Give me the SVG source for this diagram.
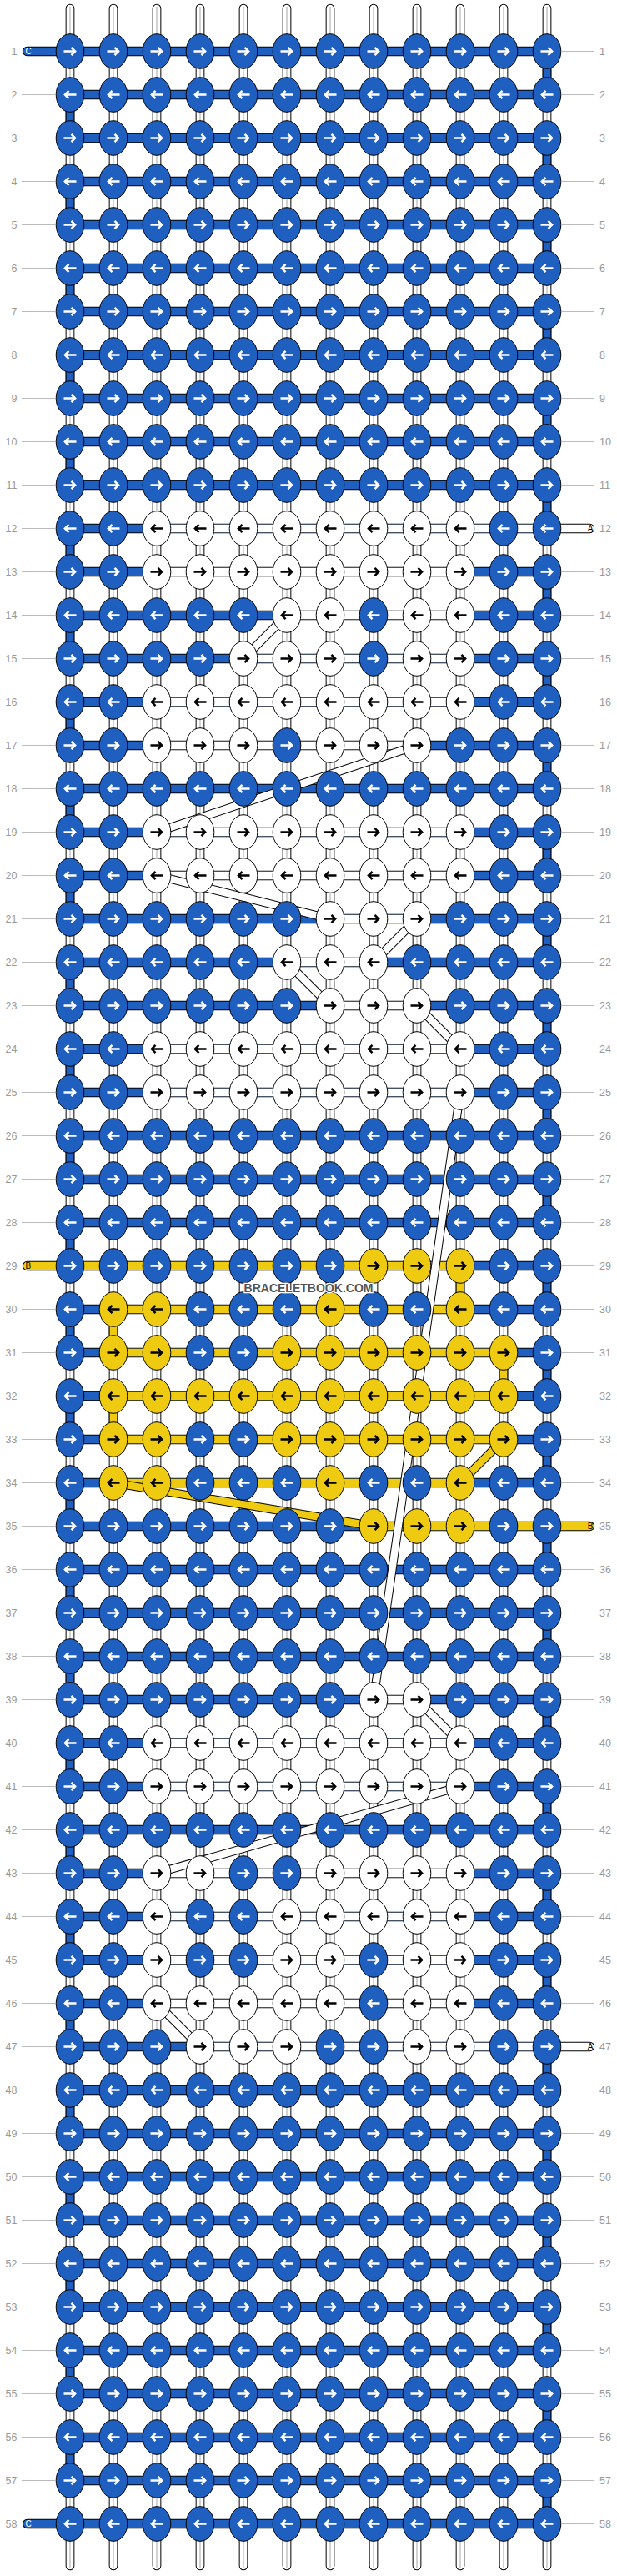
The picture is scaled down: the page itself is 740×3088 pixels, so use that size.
<svg xmlns="http://www.w3.org/2000/svg" xmlns:xlink="http://www.w3.org/1999/xlink" width="740" height="3088" viewBox="0 0 740 3088">
<style>
.lbl{font-family:"Liberation Sans",Arial,sans-serif;font-size:12.5px;fill:#999}
.edge{font-family:"Liberation Sans",Arial,sans-serif;font-size:10px}
</style>
<defs>
<path id="ar" d="M-7.5 0H6M1.5-4.6L6.1 0L1.5 4.6" fill="none" stroke-width="2.5"/>
<g id="bR"><ellipse rx="16.8" ry="20.8" fill="#1f5fbf" stroke="#000"/><use href="#ar" stroke="#fff"/></g>
<g id="bL"><ellipse rx="16.8" ry="20.8" fill="#1f5fbf" stroke="#000"/><use href="#ar" stroke="#fff" transform="scale(-1,1)"/></g>
<g id="wR"><ellipse rx="16.8" ry="20.8" fill="#fff" stroke="#000"/><use href="#ar" stroke="#000"/></g>
<g id="wL"><ellipse rx="16.8" ry="20.8" fill="#fff" stroke="#000"/><use href="#ar" stroke="#000" transform="scale(-1,1)"/></g>
<g id="yR"><ellipse rx="16.8" ry="20.8" fill="#eecb10" stroke="#000"/><use href="#ar" stroke="#000"/></g>
<g id="yL"><ellipse rx="16.8" ry="20.8" fill="#eecb10" stroke="#000"/><use href="#ar" stroke="#000" transform="scale(-1,1)"/></g>
<path id="vcols" d="M84 10V3076M136 10V3076M188 10V3076M240 10V3076M292 10V3076M344 10V3076M396 10V3076M448 10V3076M500 10V3076M552 10V3076M604 10V3076M656 10V3076"/>
<path id="hrows" d="M84 61.5H656M84 113.5H656M84 165.5H656M84 217.5H656M84 269.5H656M84 321.5H656M84 373.5H656M84 425.5H656M84 477.5H656M84 529.5H656M84 581.5H656M84 633.5H656M84 685.5H656M84 737.5H656M84 789.5H656M84 841.5H656M84 893.5H656M84 945.5H656M84 997.5H656M84 1049.5H656M84 1101.5H656M84 1153.5H656M84 1205.5H656M84 1257.5H656M84 1309.5H656M84 1361.5H656M84 1413.5H656M84 1465.5H656M84 1517.5H656M84 1569.5H656M84 1621.5H656M84 1673.5H656M84 1725.5H656M84 1777.5H656M84 1829.5H656M84 1881.5H656M84 1933.5H656M84 1985.5H656M84 2037.5H656M84 2089.5H656M84 2141.5H656M84 2193.5H656M84 2245.5H656M84 2297.5H656M84 2349.5H656M84 2401.5H656M84 2453.5H656M84 2505.5H656M84 2557.5H656M84 2609.5H656M84 2661.5H656M84 2713.5H656M84 2765.5H656M84 2817.5H656M84 2869.5H656M84 2921.5H656M84 2973.5H656M84 3025.5H656"/>
<path id="cturn" d="M656 61.5V3025.5M84 113.5V3025.5"/>
<path id="yturn" d="M552 1517.5V1569.5M136 1569.5V1621.5M604 1621.5V1673.5M136 1673.5V1725.5"/>
<path id="ends" d="M32.5 61.5H84M32.5 3025.5H84M656 633.5H707.5M656 2453.5H707.5M32.5 1517.5H84M656 1829.5H707.5"/>
<path id="wdiag" d="M344 737.5L292 789.5M500 893.5L188 997.5M188 1049.5L396 1101.5M500 1101.5L448 1153.5M344 1153.5L396 1205.5M500 1205.5L552 1257.5M552 1309.5L448 2037.5M500 2037.5L552 2089.5M552 2141.5L188 2245.5M188 2401.5L240 2453.5"/>
<path id="ydiag" d="M604 1725.5L552 1777.5M136 1777.5L448 1829.5"/>
</defs>
<rect width="740" height="3088" fill="#fff"/>
<g id="strings" fill="none">
<use href="#vcols" stroke="#000" stroke-width="10.7" stroke-linecap="round"/>
<use href="#vcols" stroke="#fff" stroke-width="8.7" stroke-linecap="round"/>
<path d="M84 8V3078M136 8V3078M188 8V3078M240 8V3078M292 8V3078M344 8V3078M396 8V3078M448 8V3078M500 8V3078M552 8V3078M604 8V3078M656 8V3078" stroke="#c8c8c8" stroke-width="1.6"/>
</g>
<g id="connectors" fill="none">
<use href="#cturn" stroke="#000" stroke-width="10.7" stroke-dasharray="52 52"/>
<use href="#cturn" stroke="#1f5fbf" stroke-width="8.7" stroke-dasharray="52 52"/>
<use href="#yturn" stroke="#000" stroke-width="10.7"/>
<use href="#yturn" stroke="#eecb10" stroke-width="8.7"/>
<use href="#hrows" stroke="#000" stroke-width="11.3"/>
<use href="#hrows" stroke="#1f5fbf" stroke-width="9.3"/>
<path stroke="#fff" stroke-width="9.3" d="M188 633.5H656M188 685.5H552M344 737.5H552M292 789.5H552M188 841.5H552M188 893.5H500M188 997.5H552M188 1049.5H552M396 1101.5H500M344 1153.5H448M396 1205.5H500M188 1257.5H552M188 1309.5H552M448 2037.5H500M188 2089.5H552M188 2141.5H552M188 2245.5H552M188 2297.5H552M188 2349.5H552M188 2401.5H552M240 2453.5H656"/>
<path stroke="#eecb10" stroke-width="9.3" d="M84 1517.5H552M136 1569.5H552M136 1621.5H604M136 1673.5H604M136 1725.5H604M136 1777.5H552M448 1829.5H656"/>
<use href="#ends" stroke="#000" stroke-width="11.3" stroke-linecap="round"/>
<path stroke="#1f5fbf" stroke-width="9.3" stroke-linecap="round" d="M32.5 61.5H84M32.5 3025.5H84"/>
<path stroke="#fff" stroke-width="9.3" stroke-linecap="round" d="M656 633.5H707.5M656 2453.5H707.5"/>
<path stroke="#eecb10" stroke-width="9.3" stroke-linecap="round" d="M32.5 1517.5H84M656 1829.5H707.5"/>
<use href="#wdiag" stroke="#000" stroke-width="10.5"/>
<use href="#wdiag" stroke="#fff" stroke-width="8.5"/>
<use href="#ydiag" stroke="#000" stroke-width="10.5"/>
<use href="#ydiag" stroke="#eecb10" stroke-width="8.5"/>
</g>
<g id="edge-labels" class="edge">
<text x="30.5" y="65.2" fill="#fff">C</text>
<text x="30.5" y="3029.2" fill="#fff">C</text>
<text x="30.5" y="1521.2" fill="#000">B</text>
<text x="711.5" y="637.2" fill="#000" text-anchor="end">A</text>
<text x="711.5" y="2457.2" fill="#000" text-anchor="end">A</text>
<text x="711.5" y="1833.2" fill="#000" text-anchor="end">B</text>
</g>
<g id="row-labels">
<path fill="none" stroke="#bbb" stroke-width="1" d="M26 113.5H66M26 165.5H66M26 217.5H66M26 269.5H66M26 321.5H66M26 373.5H66M26 425.5H66M26 477.5H66M26 529.5H66M26 581.5H66M26 633.5H66M26 685.5H66M26 737.5H66M26 789.5H66M26 841.5H66M26 893.5H66M26 945.5H66M26 997.5H66M26 1049.5H66M26 1101.5H66M26 1153.5H66M26 1205.5H66M26 1257.5H66M26 1309.5H66M26 1361.5H66M26 1413.5H66M26 1465.5H66M26 1569.5H66M26 1621.5H66M26 1673.5H66M26 1725.5H66M26 1777.5H66M26 1829.5H66M26 1881.5H66M26 1933.5H66M26 1985.5H66M26 2037.5H66M26 2089.5H66M26 2141.5H66M26 2193.5H66M26 2245.5H66M26 2297.5H66M26 2349.5H66M26 2401.5H66M26 2453.5H66M26 2505.5H66M26 2557.5H66M26 2609.5H66M26 2661.5H66M26 2713.5H66M26 2765.5H66M26 2817.5H66M26 2869.5H66M26 2921.5H66M26 2973.5H66M674 61.5H713M674 113.5H713M674 165.5H713M674 217.5H713M674 269.5H713M674 321.5H713M674 373.5H713M674 425.5H713M674 477.5H713M674 529.5H713M674 581.5H713M674 685.5H713M674 737.5H713M674 789.5H713M674 841.5H713M674 893.5H713M674 945.5H713M674 997.5H713M674 1049.5H713M674 1101.5H713M674 1153.5H713M674 1205.5H713M674 1257.5H713M674 1309.5H713M674 1361.5H713M674 1413.5H713M674 1465.5H713M674 1517.5H713M674 1569.5H713M674 1621.5H713M674 1673.5H713M674 1725.5H713M674 1777.5H713M674 1881.5H713M674 1933.5H713M674 1985.5H713M674 2037.5H713M674 2089.5H713M674 2141.5H713M674 2193.5H713M674 2245.5H713M674 2297.5H713M674 2349.5H713M674 2401.5H713M674 2505.5H713M674 2557.5H713M674 2609.5H713M674 2661.5H713M674 2713.5H713M674 2765.5H713M674 2817.5H713M674 2869.5H713M674 2921.5H713M674 2973.5H713M674 3025.5H713"/>
<g class="lbl" text-anchor="end">
<text x="20.5" y="66">1</text><text x="20.5" y="118">2</text><text x="20.5" y="170">3</text><text x="20.5" y="222">4</text><text x="20.5" y="274">5</text><text x="20.5" y="326">6</text><text x="20.5" y="378">7</text><text x="20.5" y="430">8</text><text x="20.5" y="482">9</text><text x="20.5" y="534">10</text><text x="20.5" y="586">11</text><text x="20.5" y="638">12</text><text x="20.5" y="690">13</text><text x="20.5" y="742">14</text><text x="20.5" y="794">15</text><text x="20.5" y="846">16</text><text x="20.5" y="898">17</text><text x="20.5" y="950">18</text><text x="20.5" y="1002">19</text><text x="20.5" y="1054">20</text><text x="20.5" y="1106">21</text><text x="20.5" y="1158">22</text><text x="20.5" y="1210">23</text><text x="20.5" y="1262">24</text><text x="20.5" y="1314">25</text><text x="20.5" y="1366">26</text><text x="20.5" y="1418">27</text><text x="20.5" y="1470">28</text><text x="20.5" y="1522">29</text><text x="20.5" y="1574">30</text><text x="20.5" y="1626">31</text><text x="20.5" y="1678">32</text><text x="20.5" y="1730">33</text><text x="20.5" y="1782">34</text><text x="20.5" y="1834">35</text><text x="20.5" y="1886">36</text><text x="20.5" y="1938">37</text><text x="20.5" y="1990">38</text><text x="20.5" y="2042">39</text><text x="20.5" y="2094">40</text><text x="20.5" y="2146">41</text><text x="20.5" y="2198">42</text><text x="20.5" y="2250">43</text><text x="20.5" y="2302">44</text><text x="20.5" y="2354">45</text><text x="20.5" y="2406">46</text><text x="20.5" y="2458">47</text><text x="20.5" y="2510">48</text><text x="20.5" y="2562">49</text><text x="20.5" y="2614">50</text><text x="20.5" y="2666">51</text><text x="20.5" y="2718">52</text><text x="20.5" y="2770">53</text><text x="20.5" y="2822">54</text><text x="20.5" y="2874">55</text><text x="20.5" y="2926">56</text><text x="20.5" y="2978">57</text><text x="20.5" y="3030">58</text>
</g>
<g class="lbl">
<text x="719" y="66">1</text><text x="719" y="118">2</text><text x="719" y="170">3</text><text x="719" y="222">4</text><text x="719" y="274">5</text><text x="719" y="326">6</text><text x="719" y="378">7</text><text x="719" y="430">8</text><text x="719" y="482">9</text><text x="719" y="534">10</text><text x="719" y="586">11</text><text x="719" y="638">12</text><text x="719" y="690">13</text><text x="719" y="742">14</text><text x="719" y="794">15</text><text x="719" y="846">16</text><text x="719" y="898">17</text><text x="719" y="950">18</text><text x="719" y="1002">19</text><text x="719" y="1054">20</text><text x="719" y="1106">21</text><text x="719" y="1158">22</text><text x="719" y="1210">23</text><text x="719" y="1262">24</text><text x="719" y="1314">25</text><text x="719" y="1366">26</text><text x="719" y="1418">27</text><text x="719" y="1470">28</text><text x="719" y="1522">29</text><text x="719" y="1574">30</text><text x="719" y="1626">31</text><text x="719" y="1678">32</text><text x="719" y="1730">33</text><text x="719" y="1782">34</text><text x="719" y="1834">35</text><text x="719" y="1886">36</text><text x="719" y="1938">37</text><text x="719" y="1990">38</text><text x="719" y="2042">39</text><text x="719" y="2094">40</text><text x="719" y="2146">41</text><text x="719" y="2198">42</text><text x="719" y="2250">43</text><text x="719" y="2302">44</text><text x="719" y="2354">45</text><text x="719" y="2406">46</text><text x="719" y="2458">47</text><text x="719" y="2510">48</text><text x="719" y="2562">49</text><text x="719" y="2614">50</text><text x="719" y="2666">51</text><text x="719" y="2718">52</text><text x="719" y="2770">53</text><text x="719" y="2822">54</text><text x="719" y="2874">55</text><text x="719" y="2926">56</text><text x="719" y="2978">57</text><text x="719" y="3030">58</text>
</g>
</g>
<g id="knots">
<g id="row1" transform="translate(0,61.5)"><use id="k1_1" href="#bR" x="84"/><use id="k1_2" href="#bR" x="136"/><use id="k1_3" href="#bR" x="188"/><use id="k1_4" href="#bR" x="240"/><use id="k1_5" href="#bR" x="292"/><use id="k1_6" href="#bR" x="344"/><use id="k1_7" href="#bR" x="396"/><use id="k1_8" href="#bR" x="448"/><use id="k1_9" href="#bR" x="500"/><use id="k1_10" href="#bR" x="552"/><use id="k1_11" href="#bR" x="604"/><use id="k1_12" href="#bR" x="656"/></g>
<g id="row2" transform="translate(0,113.5)"><use id="k2_1" href="#bL" x="84"/><use id="k2_2" href="#bL" x="136"/><use id="k2_3" href="#bL" x="188"/><use id="k2_4" href="#bL" x="240"/><use id="k2_5" href="#bL" x="292"/><use id="k2_6" href="#bL" x="344"/><use id="k2_7" href="#bL" x="396"/><use id="k2_8" href="#bL" x="448"/><use id="k2_9" href="#bL" x="500"/><use id="k2_10" href="#bL" x="552"/><use id="k2_11" href="#bL" x="604"/><use id="k2_12" href="#bL" x="656"/></g>
<g id="row3" transform="translate(0,165.5)"><use id="k3_1" href="#bR" x="84"/><use id="k3_2" href="#bR" x="136"/><use id="k3_3" href="#bR" x="188"/><use id="k3_4" href="#bR" x="240"/><use id="k3_5" href="#bR" x="292"/><use id="k3_6" href="#bR" x="344"/><use id="k3_7" href="#bR" x="396"/><use id="k3_8" href="#bR" x="448"/><use id="k3_9" href="#bR" x="500"/><use id="k3_10" href="#bR" x="552"/><use id="k3_11" href="#bR" x="604"/><use id="k3_12" href="#bR" x="656"/></g>
<g id="row4" transform="translate(0,217.5)"><use id="k4_1" href="#bL" x="84"/><use id="k4_2" href="#bL" x="136"/><use id="k4_3" href="#bL" x="188"/><use id="k4_4" href="#bL" x="240"/><use id="k4_5" href="#bL" x="292"/><use id="k4_6" href="#bL" x="344"/><use id="k4_7" href="#bL" x="396"/><use id="k4_8" href="#bL" x="448"/><use id="k4_9" href="#bL" x="500"/><use id="k4_10" href="#bL" x="552"/><use id="k4_11" href="#bL" x="604"/><use id="k4_12" href="#bL" x="656"/></g>
<g id="row5" transform="translate(0,269.5)"><use id="k5_1" href="#bR" x="84"/><use id="k5_2" href="#bR" x="136"/><use id="k5_3" href="#bR" x="188"/><use id="k5_4" href="#bR" x="240"/><use id="k5_5" href="#bR" x="292"/><use id="k5_6" href="#bR" x="344"/><use id="k5_7" href="#bR" x="396"/><use id="k5_8" href="#bR" x="448"/><use id="k5_9" href="#bR" x="500"/><use id="k5_10" href="#bR" x="552"/><use id="k5_11" href="#bR" x="604"/><use id="k5_12" href="#bR" x="656"/></g>
<g id="row6" transform="translate(0,321.5)"><use id="k6_1" href="#bL" x="84"/><use id="k6_2" href="#bL" x="136"/><use id="k6_3" href="#bL" x="188"/><use id="k6_4" href="#bL" x="240"/><use id="k6_5" href="#bL" x="292"/><use id="k6_6" href="#bL" x="344"/><use id="k6_7" href="#bL" x="396"/><use id="k6_8" href="#bL" x="448"/><use id="k6_9" href="#bL" x="500"/><use id="k6_10" href="#bL" x="552"/><use id="k6_11" href="#bL" x="604"/><use id="k6_12" href="#bL" x="656"/></g>
<g id="row7" transform="translate(0,373.5)"><use id="k7_1" href="#bR" x="84"/><use id="k7_2" href="#bR" x="136"/><use id="k7_3" href="#bR" x="188"/><use id="k7_4" href="#bR" x="240"/><use id="k7_5" href="#bR" x="292"/><use id="k7_6" href="#bR" x="344"/><use id="k7_7" href="#bR" x="396"/><use id="k7_8" href="#bR" x="448"/><use id="k7_9" href="#bR" x="500"/><use id="k7_10" href="#bR" x="552"/><use id="k7_11" href="#bR" x="604"/><use id="k7_12" href="#bR" x="656"/></g>
<g id="row8" transform="translate(0,425.5)"><use id="k8_1" href="#bL" x="84"/><use id="k8_2" href="#bL" x="136"/><use id="k8_3" href="#bL" x="188"/><use id="k8_4" href="#bL" x="240"/><use id="k8_5" href="#bL" x="292"/><use id="k8_6" href="#bL" x="344"/><use id="k8_7" href="#bL" x="396"/><use id="k8_8" href="#bL" x="448"/><use id="k8_9" href="#bL" x="500"/><use id="k8_10" href="#bL" x="552"/><use id="k8_11" href="#bL" x="604"/><use id="k8_12" href="#bL" x="656"/></g>
<g id="row9" transform="translate(0,477.5)"><use id="k9_1" href="#bR" x="84"/><use id="k9_2" href="#bR" x="136"/><use id="k9_3" href="#bR" x="188"/><use id="k9_4" href="#bR" x="240"/><use id="k9_5" href="#bR" x="292"/><use id="k9_6" href="#bR" x="344"/><use id="k9_7" href="#bR" x="396"/><use id="k9_8" href="#bR" x="448"/><use id="k9_9" href="#bR" x="500"/><use id="k9_10" href="#bR" x="552"/><use id="k9_11" href="#bR" x="604"/><use id="k9_12" href="#bR" x="656"/></g>
<g id="row10" transform="translate(0,529.5)"><use id="k10_1" href="#bL" x="84"/><use id="k10_2" href="#bL" x="136"/><use id="k10_3" href="#bL" x="188"/><use id="k10_4" href="#bL" x="240"/><use id="k10_5" href="#bL" x="292"/><use id="k10_6" href="#bL" x="344"/><use id="k10_7" href="#bL" x="396"/><use id="k10_8" href="#bL" x="448"/><use id="k10_9" href="#bL" x="500"/><use id="k10_10" href="#bL" x="552"/><use id="k10_11" href="#bL" x="604"/><use id="k10_12" href="#bL" x="656"/></g>
<g id="row11" transform="translate(0,581.5)"><use id="k11_1" href="#bR" x="84"/><use id="k11_2" href="#bR" x="136"/><use id="k11_3" href="#bR" x="188"/><use id="k11_4" href="#bR" x="240"/><use id="k11_5" href="#bR" x="292"/><use id="k11_6" href="#bR" x="344"/><use id="k11_7" href="#bR" x="396"/><use id="k11_8" href="#bR" x="448"/><use id="k11_9" href="#bR" x="500"/><use id="k11_10" href="#bR" x="552"/><use id="k11_11" href="#bR" x="604"/><use id="k11_12" href="#bR" x="656"/></g>
<g id="row12" transform="translate(0,633.5)"><use id="k12_1" href="#bL" x="84"/><use id="k12_2" href="#bL" x="136"/><use id="k12_3" href="#wL" x="188"/><use id="k12_4" href="#wL" x="240"/><use id="k12_5" href="#wL" x="292"/><use id="k12_6" href="#wL" x="344"/><use id="k12_7" href="#wL" x="396"/><use id="k12_8" href="#wL" x="448"/><use id="k12_9" href="#wL" x="500"/><use id="k12_10" href="#wL" x="552"/><use id="k12_11" href="#bL" x="604"/><use id="k12_12" href="#bL" x="656"/></g>
<g id="row13" transform="translate(0,685.5)"><use id="k13_1" href="#bR" x="84"/><use id="k13_2" href="#bR" x="136"/><use id="k13_3" href="#wR" x="188"/><use id="k13_4" href="#wR" x="240"/><use id="k13_5" href="#wR" x="292"/><use id="k13_6" href="#wR" x="344"/><use id="k13_7" href="#wR" x="396"/><use id="k13_8" href="#wR" x="448"/><use id="k13_9" href="#wR" x="500"/><use id="k13_10" href="#wR" x="552"/><use id="k13_11" href="#bR" x="604"/><use id="k13_12" href="#bR" x="656"/></g>
<g id="row14" transform="translate(0,737.5)"><use id="k14_1" href="#bL" x="84"/><use id="k14_2" href="#bL" x="136"/><use id="k14_3" href="#bL" x="188"/><use id="k14_4" href="#bL" x="240"/><use id="k14_5" href="#bL" x="292"/><use id="k14_6" href="#wL" x="344"/><use id="k14_7" href="#wL" x="396"/><use id="k14_8" href="#bL" x="448"/><use id="k14_9" href="#wL" x="500"/><use id="k14_10" href="#wL" x="552"/><use id="k14_11" href="#bL" x="604"/><use id="k14_12" href="#bL" x="656"/></g>
<g id="row15" transform="translate(0,789.5)"><use id="k15_1" href="#bR" x="84"/><use id="k15_2" href="#bR" x="136"/><use id="k15_3" href="#bR" x="188"/><use id="k15_4" href="#bR" x="240"/><use id="k15_5" href="#wR" x="292"/><use id="k15_6" href="#wR" x="344"/><use id="k15_7" href="#wR" x="396"/><use id="k15_8" href="#bR" x="448"/><use id="k15_9" href="#wR" x="500"/><use id="k15_10" href="#wR" x="552"/><use id="k15_11" href="#bR" x="604"/><use id="k15_12" href="#bR" x="656"/></g>
<g id="row16" transform="translate(0,841.5)"><use id="k16_1" href="#bL" x="84"/><use id="k16_2" href="#bL" x="136"/><use id="k16_3" href="#wL" x="188"/><use id="k16_4" href="#wL" x="240"/><use id="k16_5" href="#wL" x="292"/><use id="k16_6" href="#wL" x="344"/><use id="k16_7" href="#wL" x="396"/><use id="k16_8" href="#wL" x="448"/><use id="k16_9" href="#wL" x="500"/><use id="k16_10" href="#wL" x="552"/><use id="k16_11" href="#bL" x="604"/><use id="k16_12" href="#bL" x="656"/></g>
<g id="row17" transform="translate(0,893.5)"><use id="k17_1" href="#bR" x="84"/><use id="k17_2" href="#bR" x="136"/><use id="k17_3" href="#wR" x="188"/><use id="k17_4" href="#wR" x="240"/><use id="k17_5" href="#wR" x="292"/><use id="k17_6" href="#bR" x="344"/><use id="k17_7" href="#wR" x="396"/><use id="k17_8" href="#wR" x="448"/><use id="k17_9" href="#wR" x="500"/><use id="k17_10" href="#bR" x="552"/><use id="k17_11" href="#bR" x="604"/><use id="k17_12" href="#bR" x="656"/></g>
<g id="row18" transform="translate(0,945.5)"><use id="k18_1" href="#bL" x="84"/><use id="k18_2" href="#bL" x="136"/><use id="k18_3" href="#bL" x="188"/><use id="k18_4" href="#bL" x="240"/><use id="k18_5" href="#bL" x="292"/><use id="k18_6" href="#bL" x="344"/><use id="k18_7" href="#bL" x="396"/><use id="k18_8" href="#bL" x="448"/><use id="k18_9" href="#bL" x="500"/><use id="k18_10" href="#bL" x="552"/><use id="k18_11" href="#bL" x="604"/><use id="k18_12" href="#bL" x="656"/></g>
<g id="row19" transform="translate(0,997.5)"><use id="k19_1" href="#bR" x="84"/><use id="k19_2" href="#bR" x="136"/><use id="k19_3" href="#wR" x="188"/><use id="k19_4" href="#wR" x="240"/><use id="k19_5" href="#wR" x="292"/><use id="k19_6" href="#wR" x="344"/><use id="k19_7" href="#wR" x="396"/><use id="k19_8" href="#wR" x="448"/><use id="k19_9" href="#wR" x="500"/><use id="k19_10" href="#wR" x="552"/><use id="k19_11" href="#bR" x="604"/><use id="k19_12" href="#bR" x="656"/></g>
<g id="row20" transform="translate(0,1049.5)"><use id="k20_1" href="#bL" x="84"/><use id="k20_2" href="#bL" x="136"/><use id="k20_3" href="#wL" x="188"/><use id="k20_4" href="#wL" x="240"/><use id="k20_5" href="#wL" x="292"/><use id="k20_6" href="#wL" x="344"/><use id="k20_7" href="#wL" x="396"/><use id="k20_8" href="#wL" x="448"/><use id="k20_9" href="#wL" x="500"/><use id="k20_10" href="#wL" x="552"/><use id="k20_11" href="#bL" x="604"/><use id="k20_12" href="#bL" x="656"/></g>
<g id="row21" transform="translate(0,1101.5)"><use id="k21_1" href="#bR" x="84"/><use id="k21_2" href="#bR" x="136"/><use id="k21_3" href="#bR" x="188"/><use id="k21_4" href="#bR" x="240"/><use id="k21_5" href="#bR" x="292"/><use id="k21_6" href="#bR" x="344"/><use id="k21_7" href="#wR" x="396"/><use id="k21_8" href="#wR" x="448"/><use id="k21_9" href="#wR" x="500"/><use id="k21_10" href="#bR" x="552"/><use id="k21_11" href="#bR" x="604"/><use id="k21_12" href="#bR" x="656"/></g>
<g id="row22" transform="translate(0,1153.5)"><use id="k22_1" href="#bL" x="84"/><use id="k22_2" href="#bL" x="136"/><use id="k22_3" href="#bL" x="188"/><use id="k22_4" href="#bL" x="240"/><use id="k22_5" href="#bL" x="292"/><use id="k22_6" href="#wL" x="344"/><use id="k22_7" href="#wL" x="396"/><use id="k22_8" href="#wL" x="448"/><use id="k22_9" href="#bL" x="500"/><use id="k22_10" href="#bL" x="552"/><use id="k22_11" href="#bL" x="604"/><use id="k22_12" href="#bL" x="656"/></g>
<g id="row23" transform="translate(0,1205.5)"><use id="k23_1" href="#bR" x="84"/><use id="k23_2" href="#bR" x="136"/><use id="k23_3" href="#bR" x="188"/><use id="k23_4" href="#bR" x="240"/><use id="k23_5" href="#bR" x="292"/><use id="k23_6" href="#bR" x="344"/><use id="k23_7" href="#wR" x="396"/><use id="k23_8" href="#wR" x="448"/><use id="k23_9" href="#wR" x="500"/><use id="k23_10" href="#bR" x="552"/><use id="k23_11" href="#bR" x="604"/><use id="k23_12" href="#bR" x="656"/></g>
<g id="row24" transform="translate(0,1257.5)"><use id="k24_1" href="#bL" x="84"/><use id="k24_2" href="#bL" x="136"/><use id="k24_3" href="#wL" x="188"/><use id="k24_4" href="#wL" x="240"/><use id="k24_5" href="#wL" x="292"/><use id="k24_6" href="#wL" x="344"/><use id="k24_7" href="#wL" x="396"/><use id="k24_8" href="#wL" x="448"/><use id="k24_9" href="#wL" x="500"/><use id="k24_10" href="#wL" x="552"/><use id="k24_11" href="#bL" x="604"/><use id="k24_12" href="#bL" x="656"/></g>
<g id="row25" transform="translate(0,1309.5)"><use id="k25_1" href="#bR" x="84"/><use id="k25_2" href="#bR" x="136"/><use id="k25_3" href="#wR" x="188"/><use id="k25_4" href="#wR" x="240"/><use id="k25_5" href="#wR" x="292"/><use id="k25_6" href="#wR" x="344"/><use id="k25_7" href="#wR" x="396"/><use id="k25_8" href="#wR" x="448"/><use id="k25_9" href="#wR" x="500"/><use id="k25_10" href="#wR" x="552"/><use id="k25_11" href="#bR" x="604"/><use id="k25_12" href="#bR" x="656"/></g>
<g id="row26" transform="translate(0,1361.5)"><use id="k26_1" href="#bL" x="84"/><use id="k26_2" href="#bL" x="136"/><use id="k26_3" href="#bL" x="188"/><use id="k26_4" href="#bL" x="240"/><use id="k26_5" href="#bL" x="292"/><use id="k26_6" href="#bL" x="344"/><use id="k26_7" href="#bL" x="396"/><use id="k26_8" href="#bL" x="448"/><use id="k26_9" href="#bL" x="500"/><use id="k26_10" href="#bL" x="552"/><use id="k26_11" href="#bL" x="604"/><use id="k26_12" href="#bL" x="656"/></g>
<g id="row27" transform="translate(0,1413.5)"><use id="k27_1" href="#bR" x="84"/><use id="k27_2" href="#bR" x="136"/><use id="k27_3" href="#bR" x="188"/><use id="k27_4" href="#bR" x="240"/><use id="k27_5" href="#bR" x="292"/><use id="k27_6" href="#bR" x="344"/><use id="k27_7" href="#bR" x="396"/><use id="k27_8" href="#bR" x="448"/><use id="k27_9" href="#bR" x="500"/><use id="k27_10" href="#bR" x="552"/><use id="k27_11" href="#bR" x="604"/><use id="k27_12" href="#bR" x="656"/></g>
<g id="row28" transform="translate(0,1465.5)"><use id="k28_1" href="#bL" x="84"/><use id="k28_2" href="#bL" x="136"/><use id="k28_3" href="#bL" x="188"/><use id="k28_4" href="#bL" x="240"/><use id="k28_5" href="#bL" x="292"/><use id="k28_6" href="#bL" x="344"/><use id="k28_7" href="#bL" x="396"/><use id="k28_8" href="#bL" x="448"/><use id="k28_9" href="#bL" x="500"/><use id="k28_10" href="#bL" x="552"/><use id="k28_11" href="#bL" x="604"/><use id="k28_12" href="#bL" x="656"/></g>
<g id="row29" transform="translate(0,1517.5)"><use id="k29_1" href="#bR" x="84"/><use id="k29_2" href="#bR" x="136"/><use id="k29_3" href="#bR" x="188"/><use id="k29_4" href="#bR" x="240"/><use id="k29_5" href="#bR" x="292"/><use id="k29_6" href="#bR" x="344"/><use id="k29_7" href="#bR" x="396"/><use id="k29_8" href="#yR" x="448"/><use id="k29_9" href="#yR" x="500"/><use id="k29_10" href="#yR" x="552"/><use id="k29_11" href="#bR" x="604"/><use id="k29_12" href="#bR" x="656"/></g>
<g id="row30" transform="translate(0,1569.5)"><use id="k30_1" href="#bL" x="84"/><use id="k30_2" href="#yL" x="136"/><use id="k30_3" href="#yL" x="188"/><use id="k30_4" href="#bL" x="240"/><use id="k30_5" href="#bL" x="292"/><use id="k30_6" href="#bL" x="344"/><use id="k30_7" href="#yL" x="396"/><use id="k30_8" href="#bL" x="448"/><use id="k30_9" href="#bL" x="500"/><use id="k30_10" href="#yL" x="552"/><use id="k30_11" href="#bL" x="604"/><use id="k30_12" href="#bL" x="656"/></g>
<g id="row31" transform="translate(0,1621.5)"><use id="k31_1" href="#bR" x="84"/><use id="k31_2" href="#yR" x="136"/><use id="k31_3" href="#yR" x="188"/><use id="k31_4" href="#bR" x="240"/><use id="k31_5" href="#bR" x="292"/><use id="k31_6" href="#yR" x="344"/><use id="k31_7" href="#yR" x="396"/><use id="k31_8" href="#yR" x="448"/><use id="k31_9" href="#yR" x="500"/><use id="k31_10" href="#yR" x="552"/><use id="k31_11" href="#yR" x="604"/><use id="k31_12" href="#bR" x="656"/></g>
<g id="row32" transform="translate(0,1673.5)"><use id="k32_1" href="#bL" x="84"/><use id="k32_2" href="#yL" x="136"/><use id="k32_3" href="#yL" x="188"/><use id="k32_4" href="#yL" x="240"/><use id="k32_5" href="#yL" x="292"/><use id="k32_6" href="#yL" x="344"/><use id="k32_7" href="#yL" x="396"/><use id="k32_8" href="#yL" x="448"/><use id="k32_9" href="#yL" x="500"/><use id="k32_10" href="#yL" x="552"/><use id="k32_11" href="#yL" x="604"/><use id="k32_12" href="#bL" x="656"/></g>
<g id="row33" transform="translate(0,1725.5)"><use id="k33_1" href="#bR" x="84"/><use id="k33_2" href="#yR" x="136"/><use id="k33_3" href="#yR" x="188"/><use id="k33_4" href="#bR" x="240"/><use id="k33_5" href="#bR" x="292"/><use id="k33_6" href="#yR" x="344"/><use id="k33_7" href="#yR" x="396"/><use id="k33_8" href="#yR" x="448"/><use id="k33_9" href="#yR" x="500"/><use id="k33_10" href="#yR" x="552"/><use id="k33_11" href="#yR" x="604"/><use id="k33_12" href="#bR" x="656"/></g>
<g id="row34" transform="translate(0,1777.5)"><use id="k34_1" href="#bL" x="84"/><use id="k34_2" href="#yL" x="136"/><use id="k34_3" href="#yL" x="188"/><use id="k34_4" href="#bL" x="240"/><use id="k34_5" href="#bL" x="292"/><use id="k34_6" href="#bL" x="344"/><use id="k34_7" href="#yL" x="396"/><use id="k34_8" href="#bL" x="448"/><use id="k34_9" href="#bL" x="500"/><use id="k34_10" href="#yL" x="552"/><use id="k34_11" href="#bL" x="604"/><use id="k34_12" href="#bL" x="656"/></g>
<g id="row35" transform="translate(0,1829.5)"><use id="k35_1" href="#bR" x="84"/><use id="k35_2" href="#bR" x="136"/><use id="k35_3" href="#bR" x="188"/><use id="k35_4" href="#bR" x="240"/><use id="k35_5" href="#bR" x="292"/><use id="k35_6" href="#bR" x="344"/><use id="k35_7" href="#bR" x="396"/><use id="k35_8" href="#yR" x="448"/><use id="k35_9" href="#yR" x="500"/><use id="k35_10" href="#yR" x="552"/><use id="k35_11" href="#bR" x="604"/><use id="k35_12" href="#bR" x="656"/></g>
<g id="row36" transform="translate(0,1881.5)"><use id="k36_1" href="#bL" x="84"/><use id="k36_2" href="#bL" x="136"/><use id="k36_3" href="#bL" x="188"/><use id="k36_4" href="#bL" x="240"/><use id="k36_5" href="#bL" x="292"/><use id="k36_6" href="#bL" x="344"/><use id="k36_7" href="#bL" x="396"/><use id="k36_8" href="#bL" x="448"/><use id="k36_9" href="#bL" x="500"/><use id="k36_10" href="#bL" x="552"/><use id="k36_11" href="#bL" x="604"/><use id="k36_12" href="#bL" x="656"/></g>
<g id="row37" transform="translate(0,1933.5)"><use id="k37_1" href="#bR" x="84"/><use id="k37_2" href="#bR" x="136"/><use id="k37_3" href="#bR" x="188"/><use id="k37_4" href="#bR" x="240"/><use id="k37_5" href="#bR" x="292"/><use id="k37_6" href="#bR" x="344"/><use id="k37_7" href="#bR" x="396"/><use id="k37_8" href="#bR" x="448"/><use id="k37_9" href="#bR" x="500"/><use id="k37_10" href="#bR" x="552"/><use id="k37_11" href="#bR" x="604"/><use id="k37_12" href="#bR" x="656"/></g>
<g id="row38" transform="translate(0,1985.5)"><use id="k38_1" href="#bL" x="84"/><use id="k38_2" href="#bL" x="136"/><use id="k38_3" href="#bL" x="188"/><use id="k38_4" href="#bL" x="240"/><use id="k38_5" href="#bL" x="292"/><use id="k38_6" href="#bL" x="344"/><use id="k38_7" href="#bL" x="396"/><use id="k38_8" href="#bL" x="448"/><use id="k38_9" href="#bL" x="500"/><use id="k38_10" href="#bL" x="552"/><use id="k38_11" href="#bL" x="604"/><use id="k38_12" href="#bL" x="656"/></g>
<g id="row39" transform="translate(0,2037.5)"><use id="k39_1" href="#bR" x="84"/><use id="k39_2" href="#bR" x="136"/><use id="k39_3" href="#bR" x="188"/><use id="k39_4" href="#bR" x="240"/><use id="k39_5" href="#bR" x="292"/><use id="k39_6" href="#bR" x="344"/><use id="k39_7" href="#bR" x="396"/><use id="k39_8" href="#wR" x="448"/><use id="k39_9" href="#wR" x="500"/><use id="k39_10" href="#bR" x="552"/><use id="k39_11" href="#bR" x="604"/><use id="k39_12" href="#bR" x="656"/></g>
<g id="row40" transform="translate(0,2089.5)"><use id="k40_1" href="#bL" x="84"/><use id="k40_2" href="#bL" x="136"/><use id="k40_3" href="#wL" x="188"/><use id="k40_4" href="#wL" x="240"/><use id="k40_5" href="#wL" x="292"/><use id="k40_6" href="#wL" x="344"/><use id="k40_7" href="#wL" x="396"/><use id="k40_8" href="#wL" x="448"/><use id="k40_9" href="#wL" x="500"/><use id="k40_10" href="#wL" x="552"/><use id="k40_11" href="#bL" x="604"/><use id="k40_12" href="#bL" x="656"/></g>
<g id="row41" transform="translate(0,2141.5)"><use id="k41_1" href="#bR" x="84"/><use id="k41_2" href="#bR" x="136"/><use id="k41_3" href="#wR" x="188"/><use id="k41_4" href="#wR" x="240"/><use id="k41_5" href="#wR" x="292"/><use id="k41_6" href="#wR" x="344"/><use id="k41_7" href="#wR" x="396"/><use id="k41_8" href="#wR" x="448"/><use id="k41_9" href="#wR" x="500"/><use id="k41_10" href="#wR" x="552"/><use id="k41_11" href="#bR" x="604"/><use id="k41_12" href="#bR" x="656"/></g>
<g id="row42" transform="translate(0,2193.5)"><use id="k42_1" href="#bL" x="84"/><use id="k42_2" href="#bL" x="136"/><use id="k42_3" href="#bL" x="188"/><use id="k42_4" href="#bL" x="240"/><use id="k42_5" href="#bL" x="292"/><use id="k42_6" href="#bL" x="344"/><use id="k42_7" href="#bL" x="396"/><use id="k42_8" href="#bL" x="448"/><use id="k42_9" href="#bL" x="500"/><use id="k42_10" href="#bL" x="552"/><use id="k42_11" href="#bL" x="604"/><use id="k42_12" href="#bL" x="656"/></g>
<g id="row43" transform="translate(0,2245.5)"><use id="k43_1" href="#bR" x="84"/><use id="k43_2" href="#bR" x="136"/><use id="k43_3" href="#wR" x="188"/><use id="k43_4" href="#wR" x="240"/><use id="k43_5" href="#bR" x="292"/><use id="k43_6" href="#bR" x="344"/><use id="k43_7" href="#wR" x="396"/><use id="k43_8" href="#wR" x="448"/><use id="k43_9" href="#wR" x="500"/><use id="k43_10" href="#wR" x="552"/><use id="k43_11" href="#bR" x="604"/><use id="k43_12" href="#bR" x="656"/></g>
<g id="row44" transform="translate(0,2297.5)"><use id="k44_1" href="#bL" x="84"/><use id="k44_2" href="#bL" x="136"/><use id="k44_3" href="#wL" x="188"/><use id="k44_4" href="#bL" x="240"/><use id="k44_5" href="#bL" x="292"/><use id="k44_6" href="#wL" x="344"/><use id="k44_7" href="#wL" x="396"/><use id="k44_8" href="#wL" x="448"/><use id="k44_9" href="#wL" x="500"/><use id="k44_10" href="#wL" x="552"/><use id="k44_11" href="#bL" x="604"/><use id="k44_12" href="#bL" x="656"/></g>
<g id="row45" transform="translate(0,2349.5)"><use id="k45_1" href="#bR" x="84"/><use id="k45_2" href="#bR" x="136"/><use id="k45_3" href="#wR" x="188"/><use id="k45_4" href="#bR" x="240"/><use id="k45_5" href="#bR" x="292"/><use id="k45_6" href="#wR" x="344"/><use id="k45_7" href="#wR" x="396"/><use id="k45_8" href="#bR" x="448"/><use id="k45_9" href="#wR" x="500"/><use id="k45_10" href="#wR" x="552"/><use id="k45_11" href="#bR" x="604"/><use id="k45_12" href="#bR" x="656"/></g>
<g id="row46" transform="translate(0,2401.5)"><use id="k46_1" href="#bL" x="84"/><use id="k46_2" href="#bL" x="136"/><use id="k46_3" href="#wL" x="188"/><use id="k46_4" href="#wL" x="240"/><use id="k46_5" href="#wL" x="292"/><use id="k46_6" href="#wL" x="344"/><use id="k46_7" href="#wL" x="396"/><use id="k46_8" href="#bL" x="448"/><use id="k46_9" href="#wL" x="500"/><use id="k46_10" href="#wL" x="552"/><use id="k46_11" href="#bL" x="604"/><use id="k46_12" href="#bL" x="656"/></g>
<g id="row47" transform="translate(0,2453.5)"><use id="k47_1" href="#bR" x="84"/><use id="k47_2" href="#bR" x="136"/><use id="k47_3" href="#bR" x="188"/><use id="k47_4" href="#wR" x="240"/><use id="k47_5" href="#wR" x="292"/><use id="k47_6" href="#wR" x="344"/><use id="k47_7" href="#bR" x="396"/><use id="k47_8" href="#bR" x="448"/><use id="k47_9" href="#wR" x="500"/><use id="k47_10" href="#wR" x="552"/><use id="k47_11" href="#bR" x="604"/><use id="k47_12" href="#bR" x="656"/></g>
<g id="row48" transform="translate(0,2505.5)"><use id="k48_1" href="#bL" x="84"/><use id="k48_2" href="#bL" x="136"/><use id="k48_3" href="#bL" x="188"/><use id="k48_4" href="#bL" x="240"/><use id="k48_5" href="#bL" x="292"/><use id="k48_6" href="#bL" x="344"/><use id="k48_7" href="#bL" x="396"/><use id="k48_8" href="#bL" x="448"/><use id="k48_9" href="#bL" x="500"/><use id="k48_10" href="#bL" x="552"/><use id="k48_11" href="#bL" x="604"/><use id="k48_12" href="#bL" x="656"/></g>
<g id="row49" transform="translate(0,2557.5)"><use id="k49_1" href="#bR" x="84"/><use id="k49_2" href="#bR" x="136"/><use id="k49_3" href="#bR" x="188"/><use id="k49_4" href="#bR" x="240"/><use id="k49_5" href="#bR" x="292"/><use id="k49_6" href="#bR" x="344"/><use id="k49_7" href="#bR" x="396"/><use id="k49_8" href="#bR" x="448"/><use id="k49_9" href="#bR" x="500"/><use id="k49_10" href="#bR" x="552"/><use id="k49_11" href="#bR" x="604"/><use id="k49_12" href="#bR" x="656"/></g>
<g id="row50" transform="translate(0,2609.5)"><use id="k50_1" href="#bL" x="84"/><use id="k50_2" href="#bL" x="136"/><use id="k50_3" href="#bL" x="188"/><use id="k50_4" href="#bL" x="240"/><use id="k50_5" href="#bL" x="292"/><use id="k50_6" href="#bL" x="344"/><use id="k50_7" href="#bL" x="396"/><use id="k50_8" href="#bL" x="448"/><use id="k50_9" href="#bL" x="500"/><use id="k50_10" href="#bL" x="552"/><use id="k50_11" href="#bL" x="604"/><use id="k50_12" href="#bL" x="656"/></g>
<g id="row51" transform="translate(0,2661.5)"><use id="k51_1" href="#bR" x="84"/><use id="k51_2" href="#bR" x="136"/><use id="k51_3" href="#bR" x="188"/><use id="k51_4" href="#bR" x="240"/><use id="k51_5" href="#bR" x="292"/><use id="k51_6" href="#bR" x="344"/><use id="k51_7" href="#bR" x="396"/><use id="k51_8" href="#bR" x="448"/><use id="k51_9" href="#bR" x="500"/><use id="k51_10" href="#bR" x="552"/><use id="k51_11" href="#bR" x="604"/><use id="k51_12" href="#bR" x="656"/></g>
<g id="row52" transform="translate(0,2713.5)"><use id="k52_1" href="#bL" x="84"/><use id="k52_2" href="#bL" x="136"/><use id="k52_3" href="#bL" x="188"/><use id="k52_4" href="#bL" x="240"/><use id="k52_5" href="#bL" x="292"/><use id="k52_6" href="#bL" x="344"/><use id="k52_7" href="#bL" x="396"/><use id="k52_8" href="#bL" x="448"/><use id="k52_9" href="#bL" x="500"/><use id="k52_10" href="#bL" x="552"/><use id="k52_11" href="#bL" x="604"/><use id="k52_12" href="#bL" x="656"/></g>
<g id="row53" transform="translate(0,2765.5)"><use id="k53_1" href="#bR" x="84"/><use id="k53_2" href="#bR" x="136"/><use id="k53_3" href="#bR" x="188"/><use id="k53_4" href="#bR" x="240"/><use id="k53_5" href="#bR" x="292"/><use id="k53_6" href="#bR" x="344"/><use id="k53_7" href="#bR" x="396"/><use id="k53_8" href="#bR" x="448"/><use id="k53_9" href="#bR" x="500"/><use id="k53_10" href="#bR" x="552"/><use id="k53_11" href="#bR" x="604"/><use id="k53_12" href="#bR" x="656"/></g>
<g id="row54" transform="translate(0,2817.5)"><use id="k54_1" href="#bL" x="84"/><use id="k54_2" href="#bL" x="136"/><use id="k54_3" href="#bL" x="188"/><use id="k54_4" href="#bL" x="240"/><use id="k54_5" href="#bL" x="292"/><use id="k54_6" href="#bL" x="344"/><use id="k54_7" href="#bL" x="396"/><use id="k54_8" href="#bL" x="448"/><use id="k54_9" href="#bL" x="500"/><use id="k54_10" href="#bL" x="552"/><use id="k54_11" href="#bL" x="604"/><use id="k54_12" href="#bL" x="656"/></g>
<g id="row55" transform="translate(0,2869.5)"><use id="k55_1" href="#bR" x="84"/><use id="k55_2" href="#bR" x="136"/><use id="k55_3" href="#bR" x="188"/><use id="k55_4" href="#bR" x="240"/><use id="k55_5" href="#bR" x="292"/><use id="k55_6" href="#bR" x="344"/><use id="k55_7" href="#bR" x="396"/><use id="k55_8" href="#bR" x="448"/><use id="k55_9" href="#bR" x="500"/><use id="k55_10" href="#bR" x="552"/><use id="k55_11" href="#bR" x="604"/><use id="k55_12" href="#bR" x="656"/></g>
<g id="row56" transform="translate(0,2921.5)"><use id="k56_1" href="#bL" x="84"/><use id="k56_2" href="#bL" x="136"/><use id="k56_3" href="#bL" x="188"/><use id="k56_4" href="#bL" x="240"/><use id="k56_5" href="#bL" x="292"/><use id="k56_6" href="#bL" x="344"/><use id="k56_7" href="#bL" x="396"/><use id="k56_8" href="#bL" x="448"/><use id="k56_9" href="#bL" x="500"/><use id="k56_10" href="#bL" x="552"/><use id="k56_11" href="#bL" x="604"/><use id="k56_12" href="#bL" x="656"/></g>
<g id="row57" transform="translate(0,2973.5)"><use id="k57_1" href="#bR" x="84"/><use id="k57_2" href="#bR" x="136"/><use id="k57_3" href="#bR" x="188"/><use id="k57_4" href="#bR" x="240"/><use id="k57_5" href="#bR" x="292"/><use id="k57_6" href="#bR" x="344"/><use id="k57_7" href="#bR" x="396"/><use id="k57_8" href="#bR" x="448"/><use id="k57_9" href="#bR" x="500"/><use id="k57_10" href="#bR" x="552"/><use id="k57_11" href="#bR" x="604"/><use id="k57_12" href="#bR" x="656"/></g>
<g id="row58" transform="translate(0,3025.5)"><use id="k58_1" href="#bL" x="84"/><use id="k58_2" href="#bL" x="136"/><use id="k58_3" href="#bL" x="188"/><use id="k58_4" href="#bL" x="240"/><use id="k58_5" href="#bL" x="292"/><use id="k58_6" href="#bL" x="344"/><use id="k58_7" href="#bL" x="396"/><use id="k58_8" href="#bL" x="448"/><use id="k58_9" href="#bL" x="500"/><use id="k58_10" href="#bL" x="552"/><use id="k58_11" href="#bL" x="604"/><use id="k58_12" href="#bL" x="656"/></g>
</g>
<text id="watermark" x="370" y="1549" text-anchor="middle" font-family="'Liberation Sans',Arial,sans-serif" font-weight="bold" font-size="15" fill="#555" stroke="#fff" stroke-width="2.5" paint-order="stroke" textLength="155" lengthAdjust="spacingAndGlyphs">BRACELETBOOK.COM</text>
</svg>
